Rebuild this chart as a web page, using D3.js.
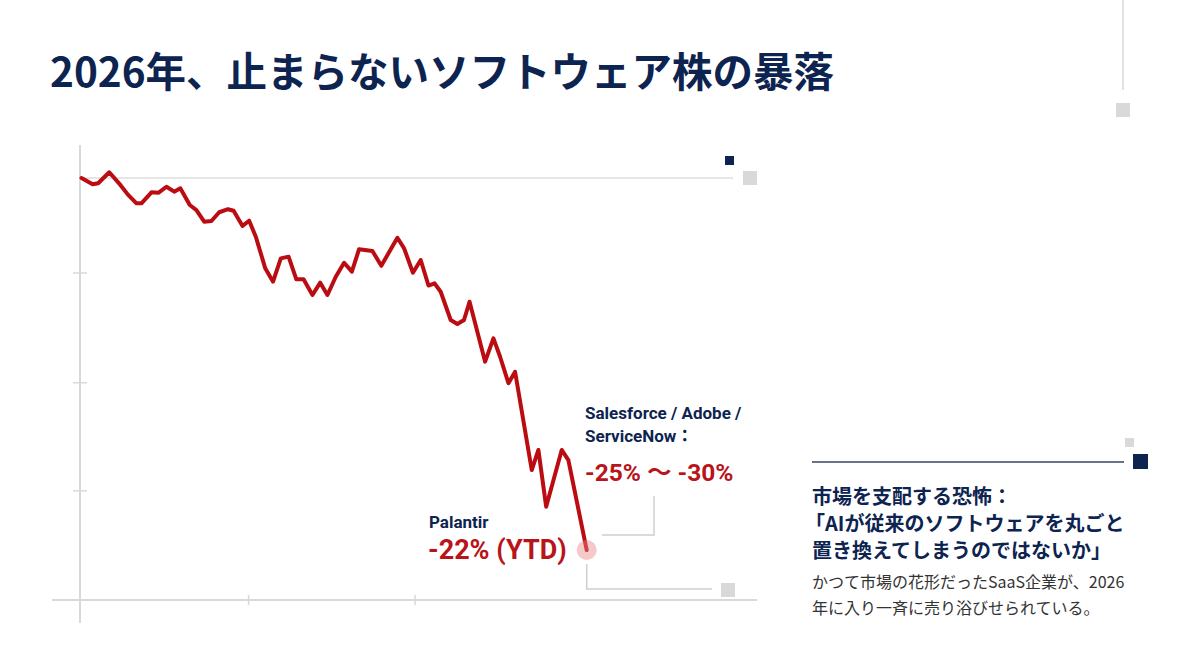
<!DOCTYPE html>
<html lang="ja">
<head>
<meta charset="utf-8">
<title>ソフトウェア株の暴落</title>
<script src="https://d3js.org/d3.v7.min.js"></script>
<style>
  body { margin: 0; background: #fff; }
  .title { font: 700 40.5px "Noto Sans CJK JP", sans-serif; fill: #0d2350; }
  .lbl { font-family: Roboto, "Noto Sans CJK JP", sans-serif; font-weight: 700; fill: #0d2350; }
  .pct { font-family: Roboto, "Noto Sans CJK JP", sans-serif; font-weight: 700; fill: #b81419; }
  .head { font: 700 20px "Noto Sans CJK JP", sans-serif; fill: #0d2350; }
  .body { font: 400 16px "Noto Sans CJK JP", sans-serif; fill: #333; }
</style>
</head>
<body>
<div id="chart"></div>
<script>
  // trading days since Jan 1 and YTD % change
  const days = [0, 2, 3, 5, 7, 8.4, 9.9, 10.8, 12.6, 13.9, 15.3, 16.7, 17.8, 19.5, 20.7, 22.1, 23.4, 24.8, 26.4, 27.4,
                29, 30.2, 31.4, 33.1, 34.5, 35.9, 37.3, 38.7, 40, 41.6, 43, 44.3, 45.8, 47.3, 48.7, 50, 52.4, 54, 56.9, 58.1,
                59.7, 61.1, 62.5, 63.6, 64.7, 66.5, 67.7, 68.9, 69.9, 72.7, 74.2, 75.4, 76.9, 78.1, 81.1, 82.3, 83.7, 86.5, 87.7, 91];
  const ytd = [0, -0.37, -0.31, 0.34, -0.41, -1.0, -1.5, -1.5, -0.85, -0.87, -0.52, -0.81, -0.61, -1.6, -1.9, -2.59, -2.55, -2.03, -1.85, -1.94,
               -2.84, -2.53, -3.48, -5.35, -6.14, -4.76, -4.66, -6.0, -6.0, -6.93, -6.2, -6.93, -5.85, -5.02, -5.55, -4.22, -4.32, -5.2, -3.54, -4.16,
               -5.61, -4.86, -6.37, -6.24, -6.74, -8.41, -8.65, -8.41, -7.33, -10.88, -9.5, -10.59, -12.16, -11.48, -17.3, -16.11, -19.47, -16.11, -16.71, -22.04];
  const xTicks = [30, 60];
  const yTicks = [-5.6, -12.1, -18.5];
  const gridValue = 0;

  const titleText = '2026年、止まらないソフトウェア株の暴落';
  const peerLines = ['Salesforce / Adobe /', 'ServiceNow：'];
  const peerPct = '-25% 〜 -30%';
  const palName = 'Palantir';
  const palPct = '-22% (YTD)';
  const headLines = ['市場を支配する恐怖：', '「AIが従来のソフトウェアを丸ごと', '置き換えてしまうのではないか」'];
  const bodyLines = ['かつて市場の花形だったSaaS企業が、2026', '年に入り一斉に売り浴びせられている。'];

  const width = 1200;
  const height = 670;
  const navy = '#0d2350';
  const red = '#bb0c12';
  const light = '#d9d9d9';

  const svg = d3.select('#chart').append('svg')
      .attr('width', width)
      .attr('height', height);

  svg.append('text').attr('class', 'title')
      .attr('x', 50).attr('y', 87)
      .text(titleText);

  const xScale = d3.scaleLinear().domain([0, 91]).range([81.5, 586.7]);
  const yScale = d3.scaleLinear().domain([-25, 0]).range([600, 178]);

  // frame: y axis line and baseline
  svg.append('line')
      .attr('x1', 80).attr('x2', 80).attr('y1', 145).attr('y2', 623)
      .attr('stroke', light).attr('stroke-width', 2);
  svg.append('line')
      .attr('x1', 52).attr('x2', 757).attr('y1', yScale(-25)).attr('y2', yScale(-25))
      .attr('stroke', light).attr('stroke-width', 2);

  // zero gridline
  svg.append('line')
      .attr('x1', 80).attr('x2', 733).attr('y1', yScale(gridValue)).attr('y2', yScale(gridValue))
      .attr('stroke', '#dedede').attr('stroke-width', 1.5);

  const xAxis = d3.axisBottom(xScale).tickValues(xTicks).tickSize(10).tickFormat('');
  const gx = svg.append('g')
      .attr('transform', `translate(0, ${yScale(-25) - 5})`)
      .call(xAxis);
  gx.select('.domain').remove();
  gx.selectAll('line').attr('stroke', light).attr('stroke-width', 1.5);

  const yAxis = d3.axisLeft(yScale).tickValues(yTicks).tickSize(14).tickFormat('');
  const gy = svg.append('g')
      .attr('transform', 'translate(87, 0)')
      .call(yAxis);
  gy.select('.domain').remove();
  gy.selectAll('line').attr('stroke', light).attr('stroke-width', 1.5);

  // decorations
  const deco = (x, y, s, c) => svg.append('rect').attr('x', x).attr('y', y).attr('width', s).attr('height', s).attr('fill', c);
  svg.append('line').attr('x1', 1123).attr('x2', 1123).attr('y1', 0).attr('y2', 90)
      .attr('stroke', light).attr('stroke-width', 1.5);
  deco(1116, 103, 14, light);
  deco(725, 156, 9, navy);
  deco(743, 171, 14, light);
  deco(721, 583, 14, light);
  deco(1125, 438, 9, light);
  deco(1133, 454, 15, navy);
  svg.append('line').attr('x1', 812).attr('x2', 1124).attr('y1', 462).attr('y2', 462)
      .attr('stroke', '#3a4560').attr('stroke-width', 1.5);

  // connectors
  const last = days.length - 1;
  const ex = xScale(days[last]);
  const ey = yScale(ytd[last]);
  svg.append('path')
      .attr('d', `M654,496 V535 H602`)
      .attr('fill', 'none').attr('stroke', '#cfcfcf').attr('stroke-width', 1.5);
  svg.append('path')
      .attr('d', `M${ex},${ey + 14} V589 H712`)
      .attr('fill', 'none').attr('stroke', '#cfcfcf').attr('stroke-width', 1.5);

  // line
  const line = d3.line()
      .x((d, i) => xScale(days[i]))
      .y(d => yScale(d));
  svg.append('path')
      .datum(ytd)
      .attr('d', line)
      .attr('fill', 'none')
      .attr('stroke', red)
      .attr('stroke-width', 4)
      .attr('stroke-linejoin', 'round')
      .attr('stroke-linecap', 'round');

  svg.append('circle')
      .attr('cx', ex).attr('cy', ey).attr('r', 10)
      .attr('fill', '#e8888a').attr('opacity', 0.45);

  // annotations
  peerLines.forEach((t, i) => {
    svg.append('text').attr('class', 'lbl')
        .attr('x', 585).attr('y', 419 + i * 23)
        .attr('font-size', 17)
        .text(t);
  });
  svg.append('text').attr('class', 'pct')
      .attr('x', 585).attr('y', 481)
      .attr('font-size', 24.5)
      .text(peerPct);
  svg.append('text').attr('class', 'lbl')
      .attr('x', 429).attr('y', 528)
      .attr('font-size', 17)
      .text(palName);
  svg.append('text').attr('class', 'pct')
      .attr('x', 428).attr('y', 559)
      .attr('font-size', 27)
      .text(palPct);

  // side note
  headLines.forEach((t, i) => {
    svg.append('text').attr('class', 'head')
        .attr('x', i === 1 ? 805 : 812).attr('y', 504 + i * 27)
        .text(t);
  });
  bodyLines.forEach((t, i) => {
    svg.append('text').attr('class', 'body')
        .attr('x', 812).attr('y', 588 + i * 26)
        .text(t);
  });
</script>
</body>
</html>
